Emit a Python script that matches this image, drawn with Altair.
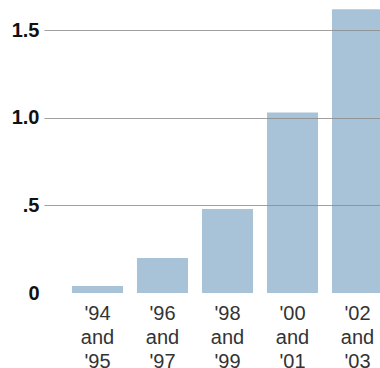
import altair as alt
import pandas as pd

periods = ["'94\nand\n'95", "'96\nand\n'97", "'98\nand\n'99", "'00\nand\n'01", "'02\nand\n'03"]
values = [0.04, 0.20, 0.48, 1.03, 1.62]
y_ticks = [0, 0.5, 1.0, 1.5]

df = pd.DataFrame({"period": periods, "value": values})

chart = alt.Chart(df).mark_bar(color="#a8c3d7", clip=True).encode(
    x=alt.X(
        "period:N",
        sort=periods,
        scale=alt.Scale(range=[0, 367], paddingInner=0.215, paddingOuter=0.43),
        axis=alt.Axis(
            title=None,
            labelAngle=0,
            labelExpr="split(datum.label, '\\n')",
            labelFont="Liberation Sans",
            labelFontSize=20,
            labelLineHeight=24,
            labelColor="#333333",
            labelPadding=10,
            domain=False,
            ticks=False,
            labelBaseline="top",
        ),
    ),
    y=alt.Y(
        "value:Q",
        scale=alt.Scale(domain=[0, 1.65], nice=False, zero=True),
        axis=alt.Axis(
            title=None,
            values=y_ticks,
            labelExpr="datum.value == 0 ? '0' : datum.value == 0.5 ? '.5' : format(datum.value, '.1f')",
            labelFont="Liberation Sans",
            labelFontSize=20,
            labelFontWeight="bold",
            labelColor="#111111",
            labelPadding=5,
            domain=False,
            ticks=False,
            grid=True,
            gridColor="#8a8a8a",
            gridWidth=1.2,
            gridOpacity={"condition": {"test": "datum.value === 0", "value": 0}, "value": 0.8},
            zindex=1,
        ),
    ),
).properties(
    width=336,
    height=289,
    autosize=alt.AutoSizeParams(type="none"),
    padding={"left": 44, "top": 4, "right": 0, "bottom": 75},
    background="white",
).configure_view(stroke=None)

chart.save("out.html", embed_options={"renderer": "svg", "actions": False})
